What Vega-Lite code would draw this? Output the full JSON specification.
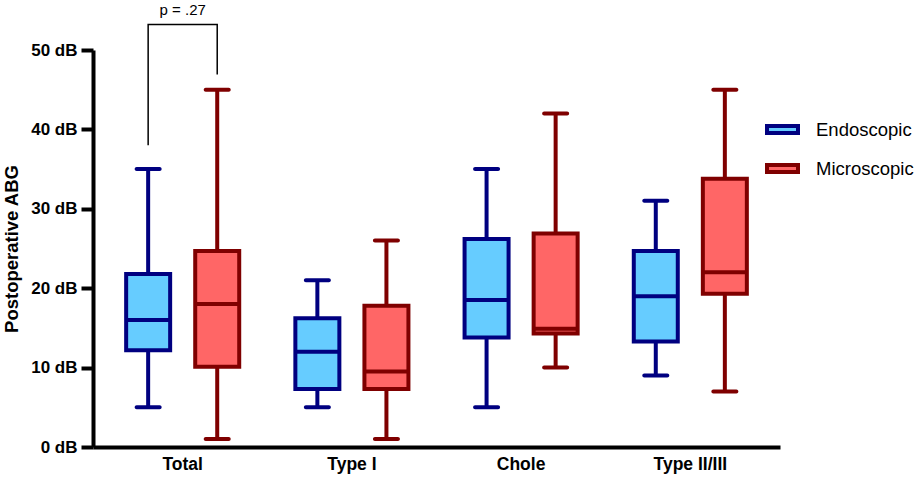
{
  "$schema": "https://vega.github.io/schema/vega-lite/v6.json",
  "width": 687,
  "height": 397,
  "autosize": "none",
  "padding": {"left": 93, "top": 50, "right": 137, "bottom": 30},
  "background": "white",
  "config": {
    "view": {"stroke": null},
    "font": "Liberation Sans"
  },
  "datasets": {
    "boxes": [
      {"cat": "Total", "group": "Endoscopic", "lower": 5, "q1": 12.2, "median": 16, "q3": 21.8, "upper": 35},
      {"cat": "Total", "group": "Microscopic", "lower": 1, "q1": 10.1, "median": 18, "q3": 24.7, "upper": 45},
      {"cat": "Type I", "group": "Endoscopic", "lower": 5, "q1": 7.3, "median": 12, "q3": 16.2, "upper": 21},
      {"cat": "Type I", "group": "Microscopic", "lower": 1, "q1": 7.3, "median": 9.5, "q3": 17.8, "upper": 26},
      {"cat": "Chole", "group": "Endoscopic", "lower": 5, "q1": 13.8, "median": 18.5, "q3": 26.2, "upper": 35},
      {"cat": "Chole", "group": "Microscopic", "lower": 10, "q1": 14.3, "median": 14.9, "q3": 26.9, "upper": 42},
      {"cat": "Type II/III", "group": "Endoscopic", "lower": 9, "q1": 13.3, "median": 19, "q3": 24.7, "upper": 31},
      {"cat": "Type II/III", "group": "Microscopic", "lower": 7, "q1": 19.3, "median": 22, "q3": 33.8, "upper": 45}
    ],
    "bracket": [
      {"cat": "Total", "group": "Endoscopic", "y": 38, "o": 1},
      {"cat": "Total", "group": "Endoscopic", "y": 53.2, "o": 2},
      {"cat": "Total", "group": "Microscopic", "y": 53.2, "o": 3},
      {"cat": "Total", "group": "Microscopic", "y": 46.9, "o": 4}
    ],
    "label": [
      {"cat": "Total", "y": 55.1, "text": "p = .27"}
    ]
  },
  "layer": [
    {
      "data": {"name": "boxes"},
      "mark": {"type": "rule", "strokeWidth": 4},
      "encoding": {
        "x": {"field": "cat", "type": "nominal", "scale": {"domain": ["Total", "Type I", "Chole", "Type II/III"], "paddingInner": 0, "paddingOuter": 0.03}, "axis": {"title": null, "domainWidth": 4, "domainColor": "black", "ticks": false, "labelFont": "Liberation Sans", "labelFontWeight": "bold", "labelFontSize": 17.5, "labelColor": "black", "labelPadding": 8, "labelAngle": 0}},
        "xOffset": {"field": "group", "type": "nominal", "scale": {"domain": ["Endoscopic", "Microscopic"], "paddingInner": 0, "paddingOuter": 0.225}},
        "y": {"field": "lower", "type": "quantitative", "scale": {"domain": [0, 50], "nice": false}, "axis": {"title": "Postoperative ABG", "values": [0, 10, 20, 30, 40, 50], "labelExpr": "datum.value + ' dB'", "grid": false, "domainWidth": 4, "domainColor": "black", "tickWidth": 4, "tickColor": "black", "tickSize": 12, "labelFont": "Liberation Sans", "labelFontWeight": "bold", "labelFontSize": 17, "labelColor": "black", "labelPadding": 4, "titleFont": "Liberation Sans", "titleFontWeight": "bold", "titleFontSize": 18.5, "titleColor": "black", "titlePadding": 9}},
        "y2": {"field": "upper"},
        "color": {"condition": {"test": "datum.group === 'Endoscopic'", "value": "#000080"}, "value": "#7f0000"}
      }
    },
    {
      "data": {"name": "boxes"},
      "mark": {"type": "bar", "width": 44, "strokeWidth": 4},
      "encoding": {
        "x": {"field": "cat", "type": "nominal"},
        "xOffset": {"field": "group", "type": "nominal"},
        "y": {"field": "q1", "type": "quantitative"},
        "y2": {"field": "q3"},
        "fill": {"field": "group", "type": "nominal", "scale": {"domain": ["Endoscopic", "Microscopic"], "range": ["#66ccff", "#ff6666"]}, "legend": {"title": null, "orient": "none", "legendX": 672, "legendY": 62, "symbolType": "M-1,-0.23H1V0.23H-1Z", "symbolSize": 961, "symbolStrokeWidth": 4, "symbolOpacity": 1, "labelFont": "Liberation Sans", "labelFontSize": 18.5, "labelColor": "black", "labelOffset": 16, "rowPadding": 9}},
        "stroke": {"field": "group", "type": "nominal", "scale": {"domain": ["Endoscopic", "Microscopic"], "range": ["#000080", "#7f0000"]}, "legend": {"title": null, "orient": "none", "legendX": 672, "legendY": 62, "symbolType": "M-1,-0.23H1V0.23H-1Z", "symbolSize": 961, "symbolStrokeWidth": 4, "symbolOpacity": 1, "labelFont": "Liberation Sans", "labelFontSize": 18.5, "labelColor": "black", "labelOffset": 16, "rowPadding": 9}}
      }
    },
    {
      "data": {"name": "boxes"},
      "mark": {"type": "tick", "size": 44, "thickness": 4, "opacity": 1},
      "encoding": {
        "x": {"field": "cat", "type": "nominal"},
        "xOffset": {"field": "group", "type": "nominal"},
        "y": {"field": "median", "type": "quantitative"},
        "color": {"condition": {"test": "datum.group === 'Endoscopic'", "value": "#000080"}, "value": "#7f0000"}
      }
    },
    {
      "data": {"name": "boxes"},
      "mark": {"type": "tick", "size": 27, "thickness": 4, "cornerRadius": 2, "opacity": 1},
      "encoding": {
        "x": {"field": "cat", "type": "nominal"},
        "xOffset": {"field": "group", "type": "nominal"},
        "y": {"field": "lower", "type": "quantitative"},
        "color": {"condition": {"test": "datum.group === 'Endoscopic'", "value": "#000080"}, "value": "#7f0000"}
      }
    },
    {
      "data": {"name": "boxes"},
      "mark": {"type": "tick", "size": 27, "thickness": 4, "cornerRadius": 2, "opacity": 1},
      "encoding": {
        "x": {"field": "cat", "type": "nominal"},
        "xOffset": {"field": "group", "type": "nominal"},
        "y": {"field": "upper", "type": "quantitative"},
        "color": {"condition": {"test": "datum.group === 'Endoscopic'", "value": "#000080"}, "value": "#7f0000"}
      }
    },
    {
      "data": {"name": "bracket"},
      "mark": {"type": "line", "color": "black", "strokeWidth": 1.5},
      "encoding": {
        "x": {"field": "cat", "type": "nominal"},
        "xOffset": {"field": "group", "type": "nominal"},
        "y": {"field": "y", "type": "quantitative"},
        "order": {"field": "o", "type": "quantitative"}
      }
    },
    {
      "data": {"name": "label"},
      "mark": {"type": "text", "font": "Liberation Sans", "fontSize": 15, "color": "black", "baseline": "middle", "align": "center"},
      "encoding": {
        "x": {"field": "cat", "type": "nominal"},
        "y": {"field": "y", "type": "quantitative"},
        "text": {"field": "text"}
      }
    }
  ]
}
